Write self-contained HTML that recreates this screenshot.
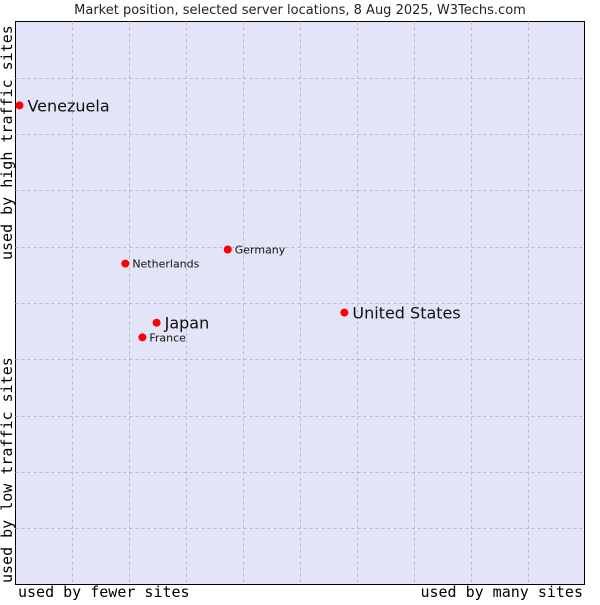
<!DOCTYPE html>
<html><head><meta charset="utf-8"><style>
body{margin:0;background:#fff;width:600px;height:600px;overflow:hidden}
svg text{font-family:"DejaVu Sans","Liberation Sans",sans-serif}
.mono{font-family:"DejaVu Sans Mono","Liberation Mono",monospace}
</style></head><body>
<svg width="600" height="600">
<text x="300" y="14" text-anchor="middle" font-size="13" fill="#222">Market position, selected server locations, 8 Aug 2025, W3Techs.com</text>
<rect x="15.5" y="21.5" width="569" height="563" fill="#e4e4f8" stroke="#000"/>
<g id="grid"></g>
<g id="pts"></g>
<text class="mono" x="18" y="597" font-size="15" fill="#000">used by fewer sites</text>
<text class="mono" x="583" y="597" text-anchor="end" font-size="15" fill="#000">used by many sites</text>
<text class="mono" transform="translate(12,583) rotate(-90)" font-size="15" fill="#000">used by low traffic sites</text>
<text class="mono" transform="translate(12,260) rotate(-90)" font-size="15" fill="#000">used by high traffic sites</text>
</svg>
<script>
const names=["Venezuela","Netherlands","Germany","United States","Japan","France"];
const xVals=[0.7,19.3,37.3,57.8,24.8,22.3];
const yVals=[85.1,57.0,59.5,48.3,46.5,43.9];
const big=[true,false,false,true,true,false];
const L=15.5,T=21.5,W=569,H=563;
const sx=v=>L+v/100*W, sy=v=>T+H-v/100*H;
const NS="http://www.w3.org/2000/svg";
const g=document.getElementById('grid');
for(let i=1;i<10;i++){
 const v=document.createElementNS(NS,'line');
 
 
 const x=Math.round(sx(i*10))+0.5;
 v.setAttribute('x1',x);v.setAttribute('x2',x);v.setAttribute('y1',T);v.setAttribute('y2',T+H);
 v.setAttribute('stroke','#bbb');v.setAttribute('stroke-dasharray','3,3');g.appendChild(v);
 const h=document.createElementNS(NS,'line');
 
 
 const y=Math.round(sy(i*10))+0.5;
 h.setAttribute('x1',L);h.setAttribute('x2',L+W);h.setAttribute('y1',y);h.setAttribute('y2',y);
 h.setAttribute('stroke','#bbb');h.setAttribute('stroke-dasharray','3,3');g.appendChild(h);
}
const p=document.getElementById('pts');
names.forEach((n,i)=>{
 const x=sx(xVals[i]),y=sy(yVals[i]);
 const c=document.createElementNS(NS,'circle');
 
 
 c.setAttribute('cx',x);c.setAttribute('cy',y);c.setAttribute('r',4);c.setAttribute('fill','#f00');
 p.appendChild(c);
 const t=document.createElementNS(NS,'text');
 
 
 t.setAttribute('x',x+(big[i]?8:7));t.setAttribute('y',y+(big[i]?6:4));
 t.setAttribute('font-size',big[i]?16:11);t.setAttribute('fill','#111');
 t.textContent=n;p.appendChild(t);
});
</script>
</body></html>
